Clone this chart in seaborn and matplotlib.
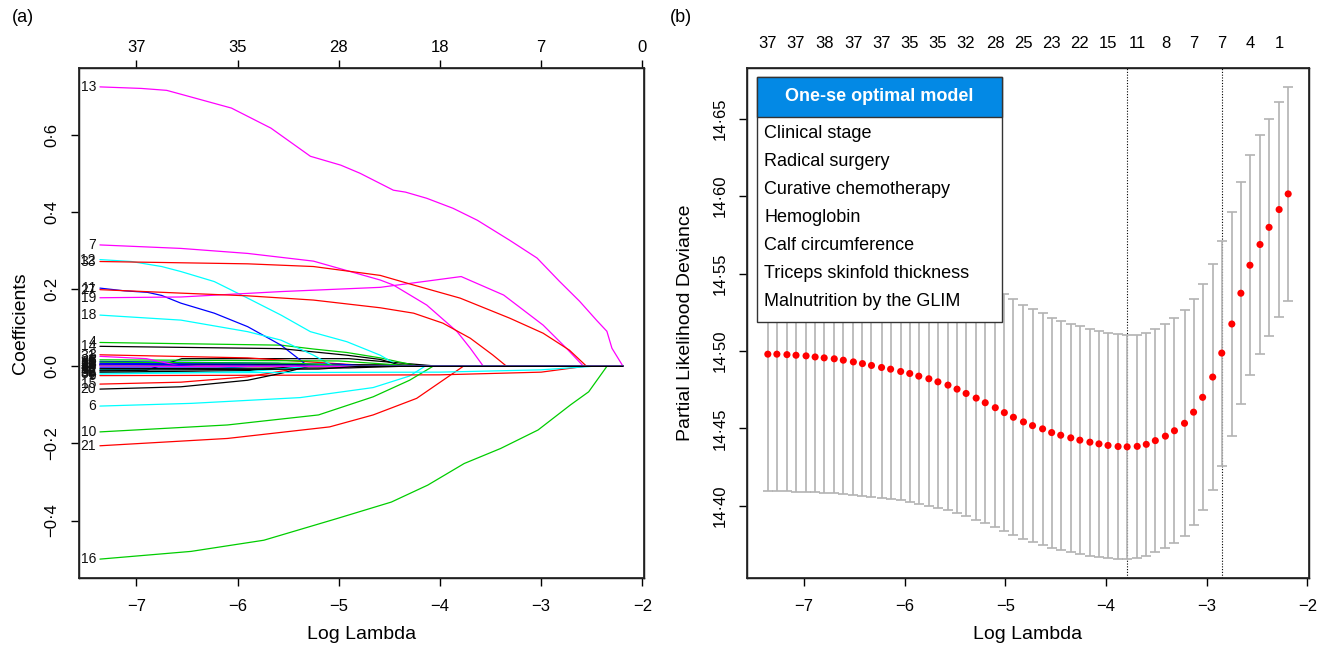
import matplotlib
matplotlib.use('Agg')
import matplotlib.pyplot as plt
from matplotlib.patches import Rectangle
import seaborn as sns
import pandas as pd

sns.set_theme(style='white')
plt.rcParams['font.family'] = ['Liberation Sans', 'DejaVu Sans']
plt.rcParams['text.color'] = 'black'
plt.rcParams['axes.labelcolor'] = 'black'
plt.rcParams['xtick.color'] = 'black'
plt.rcParams['ytick.color'] = 'black'

# --- data: cross-validation curve (panel b) ---
log_lambda = [-7.36, -7.27, -7.17, -7.08, -6.98, -6.89, -6.80, -6.70, -6.61, -6.51,
              -6.42, -6.33, -6.23, -6.14, -6.04, -5.95, -5.86, -5.76, -5.67, -5.57,
              -5.48, -5.39, -5.29, -5.20, -5.10, -5.01, -4.92, -4.82, -4.73, -4.63,
              -4.54, -4.45, -4.35, -4.26, -4.16, -4.07, -3.98, -3.88, -3.79, -3.69,
              -3.60, -3.51, -3.41, -3.32, -3.22, -3.13, -3.04, -2.94, -2.85, -2.75,
              -2.66, -2.57, -2.47, -2.38, -2.28, -2.19]
cvm = [14.4979, 14.4979, 14.4976, 14.4972, 14.4968, 14.4961, 14.4955, 14.4949, 14.4940, 14.4929,
       14.4918, 14.4906, 14.4893, 14.4882, 14.4867, 14.4854, 14.4837, 14.4820, 14.4800, 14.4779,
       14.4753, 14.4725, 14.4695, 14.4665, 14.4633, 14.4601, 14.4571, 14.4541, 14.4517, 14.4496,
       14.4472, 14.4455, 14.4438, 14.4423, 14.4410, 14.4399, 14.4389, 14.4382, 14.4380, 14.4383,
       14.4396, 14.4420, 14.4449, 14.4484, 14.4532, 14.4604, 14.4700, 14.4831, 14.4986, 14.5174,
       14.5373, 14.5554, 14.5688, 14.5799, 14.5914, 14.6015]
cvsd = [0.0884, 0.0883, 0.0882, 0.0881, 0.0879, 0.0876, 0.0872, 0.0868, 0.0864, 0.0859,
        0.0854, 0.0849, 0.0843, 0.0838, 0.0832, 0.0830, 0.0828, 0.0825, 0.0815, 0.0807,
        0.0800, 0.0792, 0.0785, 0.0779, 0.0774, 0.0768, 0.0762, 0.0757, 0.0752, 0.0748,
        0.0744, 0.0740, 0.0738, 0.0735, 0.0733, 0.0731, 0.0729, 0.0728, 0.0726, 0.0722,
        0.0719, 0.0721, 0.0725, 0.0729, 0.0730, 0.0731, 0.0731, 0.0730, 0.0727, 0.0723,
        0.0719, 0.0712, 0.0708, 0.0702, 0.0696, 0.0692]
nzero_b = [37, 37, 38, 37, 37, 35, 35, 32, 28, 25, 23, 22, 15, 11, 8, 7, 7, 4, 1]
model_vars = ['Clinical stage', 'Radical surgery', 'Curative chemotherapy', 'Hemoglobin',
              'Calf circumference', 'Triceps skinfold thickness', 'Malnutrition by the GLIM']

# --- data: lasso coefficient paths (panel a), variable -> (log lambda, coef) ---
coef_paths = {
    1: ([-7.36, -6.00, -5.50], [0.009, 0.006, 0.0]),
    2: ([-7.36, -6.90, -6.55, -4.90, -4.00], [-0.012, -0.010, 0.020, 0.020, 0.0]),
    3: ([-7.36, -5.90, -4.60], [0.030, 0.022, 0.0]),
    4: ([-7.36, -5.57, -5.25, -4.92, -4.59, -4.20], [0.062, 0.055, 0.045, 0.036, 0.022, 0.0]),
    5: ([-7.36, -5.60, -5.30], [0.013, 0.008, 0.0]),
    6: ([-7.36, -6.46, -5.38, -4.66, -4.30, -4.15], [-0.103, -0.096, -0.081, -0.055, -0.025, 0.0]),
    7: ([-7.36, -6.56, -5.90, -5.25, -4.59, -4.46, -4.13, -3.83, -3.70, -3.57],
        [0.315, 0.306, 0.293, 0.273, 0.224, 0.211, 0.159, 0.090, 0.047, 0.0]),
    8: ([-7.36, -4.40, -3.90], [0.005, 0.004, 0.0]),
    9: ([-7.36, -4.00, -3.00, -2.57], [-0.024, -0.022, -0.015, 0.0]),
    10: ([-7.36, -6.10, -5.20, -4.66, -4.30, -4.07], [-0.170, -0.152, -0.126, -0.079, -0.036, 0.0]),
    11: ([-7.36, -7.12, -6.89, -6.75, -6.56, -6.23, -5.90, -5.57, -5.30],
         [0.203, 0.196, 0.192, 0.184, 0.164, 0.138, 0.103, 0.055, 0.0]),
    12: ([-7.36, -7.05, -6.75, -6.56, -6.23, -5.90, -5.57, -5.28, -4.92, -4.59, -4.40],
         [0.277, 0.272, 0.259, 0.246, 0.220, 0.177, 0.133, 0.090, 0.064, 0.029, 0.0]),
    13: ([-7.36, -6.95, -6.70, -6.56, -6.06, -5.67, -5.28, -4.98, -4.79, -4.46, -4.34,
          -4.13, -3.87, -3.63, -3.31, -3.04, -2.82, -2.62, -2.45, -2.35, -2.30, -2.19],
         [0.725, 0.721, 0.716, 0.706, 0.670, 0.618, 0.545, 0.522, 0.501, 0.457, 0.452,
          0.436, 0.410, 0.379, 0.327, 0.281, 0.221, 0.169, 0.119, 0.091, 0.047, 0.0]),
    14: ([-7.36, -5.57, -4.92, -4.59, -4.35], [0.052, 0.046, 0.029, 0.018, 0.0]),
    15: ([-7.36, -6.56, -5.90, -5.51, -5.40], [-0.046, -0.041, -0.027, -0.010, 0.0]),
    16: ([-7.36, -6.46, -5.74, -5.02, -4.48, -4.12, -3.76, -3.40, -3.03, -2.71, -2.53, -2.35],
         [-0.500, -0.480, -0.451, -0.395, -0.352, -0.308, -0.252, -0.213, -0.165, -0.100, -0.066, 0.0]),
    17: ([-7.36, -5.00, -4.70], [0.008, 0.006, 0.0]),
    18: ([-7.36, -6.56, -5.90, -5.57, -5.25, -5.05], [0.133, 0.120, 0.090, 0.068, 0.029, 0.0]),
    19: ([-7.36, -6.56, -5.57, -4.59, -3.79, -3.37, -2.98, -2.75, -2.58],
         [0.178, 0.180, 0.194, 0.205, 0.233, 0.185, 0.107, 0.047, 0.0]),
    20: ([-7.36, -6.56, -5.90, -5.57, -5.30], [-0.059, -0.053, -0.036, -0.018, 0.0]),
    21: ([-7.36, -6.10, -5.09, -4.66, -4.23, -3.77], [-0.206, -0.187, -0.157, -0.126, -0.083, 0.0]),
    22: ([-7.36, -5.00, -4.20], [0.017, 0.014, 0.0]),
    23: ([-7.36, -5.90, -5.60], [0.004, 0.003, 0.0]),
    24: ([-7.36, -6.20, -5.90], [-0.008, -0.006, 0.0]),
    25: ([-7.36, -6.30, -6.00], [0.003, 0.002, 0.0]),
    26: ([-7.36, -4.90, -4.40], [-0.006, -0.004, 0.0]),
    27: ([-7.36, -6.56, -5.90, -5.25, -4.59, -4.26, -3.97, -3.70, -3.48, -3.34],
         [0.199, 0.190, 0.183, 0.172, 0.152, 0.138, 0.112, 0.073, 0.030, 0.0]),
    28: ([-7.36, -5.40, -4.80], [0.011, 0.008, 0.0]),
    29: ([-7.36, -6.10, -5.80], [-0.002, -0.001, 0.0]),
    30: ([-7.36, -4.00, -3.00, -2.50], [-0.017, -0.015, -0.009, 0.0]),
    31: ([-7.36, -6.90, -6.55], [0.026, 0.020, 0.0]),
    32: ([-7.36, -5.90, -5.40], [-0.015, -0.011, 0.0]),
    33: ([-7.36, -5.90, -5.25, -4.59, -4.26, -3.80, -3.31, -2.98, -2.72, -2.55],
         [0.272, 0.266, 0.259, 0.236, 0.211, 0.177, 0.125, 0.086, 0.042, 0.0]),
    34: ([-7.36, -6.50, -6.20], [0.002, 0.001, 0.0]),
    35: ([-7.36, -6.70, -6.40], [0.006, 0.004, 0.0]),
    36: ([-7.36, -5.90, -5.30], [-0.020, -0.014, 0.0]),
    37: ([-7.36, -7.00, -6.80], [0.001, 0.001, 0.0]),
    38: ([-7.36, -5.20, -4.80], [-0.010, -0.007, 0.0]),
}
top_ticks_a = [-7, -6, -5, -4, -3, -2]
nzero_a = [37, 35, 28, 18, 7, 0]

# R matplot colours: black, red, green3, blue, cyan, magenta
r_cols = ['black', '#FF0000', '#00CD00', '#0000FF', '#00FFFF', '#FF00FF']


def r_num(v, nd):
    s = f'{abs(v):.{nd}f}'.replace('.', '\u00b7')
    return ('\u2212' if v < -1e-12 else '') + s


def r_limits(lo, hi):
    pad = (hi - lo) * 0.04
    return lo - pad, hi + pad


def style_box(ax):
    for sp in ax.spines.values():
        sp.set_visible(True)
        sp.set_color('black')
        sp.set_linewidth(1.0)
    ax.tick_params(axis='both', direction='out', length=6, width=1, color='black',
                   labelcolor='black', labelsize=12, bottom=True, left=True,
                   top=False, right=False)
    ax.tick_params(axis='x', pad=9)
    ax.tick_params(axis='y', pad=8)
    ax.grid(False)


fig = plt.figure(figsize=(13.3, 6.5), dpi=100)
ax1 = fig.add_axes([79 / 1330, 72 / 650, 565 / 1330, 510 / 650])
ax2 = fig.add_axes([747 / 1330, 72 / 650, 562 / 1330, 510 / 650])

# --- (a) coefficient paths ---
rows = []
for vid, (xs, ys) in coef_paths.items():
    xs, ys = list(xs), list(ys)
    if xs[-1] < log_lambda[-1]:
        xs.append(log_lambda[-1])
        ys.append(0.0)
    for x, y in zip(xs, ys):
        rows.append({'var': vid, 'logl': x, 'coef': y})
df_paths = pd.DataFrame(rows)
ids = sorted(coef_paths)
pal = {vid: r_cols[(vid - 2) % 6] for vid in ids}
sns.lineplot(data=df_paths, x='logl', y='coef', hue='var', hue_order=ids, palette=pal,
             estimator=None, sort=False, legend=False, linewidth=0.9, ax=ax1)
for vid in ids:
    xs, ys = coef_paths[vid]
    ax1.text(xs[0] - 0.04, ys[0], str(vid), ha='right', va='center', fontsize=10,
             color='#111111')

all_coefs = [y for _, ys in coef_paths.values() for y in ys]
ax1.set_xlim(*r_limits(log_lambda[0], log_lambda[-1]))
ax1.set_ylim(*r_limits(min(all_coefs), max(all_coefs)))
style_box(ax1)
ax1.set_xticks(top_ticks_a)
ax1.set_xticklabels([r_num(t, 0) for t in top_ticks_a])
yt = [-0.4, -0.2, 0.0, 0.2, 0.4, 0.6]
ax1.set_yticks(yt)
ax1.set_yticklabels([r_num(t, 1) for t in yt], rotation=90, va='center')
ax1.set_xlabel('Log Lambda', fontsize=14, labelpad=9)
ax1.set_ylabel('Coefficients', fontsize=14, labelpad=11)

top1 = ax1.twiny()
top1.set_xlim(ax1.get_xlim())
top1.set_xticks(top_ticks_a)
top1.set_xticklabels([str(n) for n in nzero_a])
top1.tick_params(axis='x', direction='out', length=6, width=1, color='black',
                 labelcolor='black', labelsize=12, top=True, pad=3)
top1.grid(False)

# --- (b) cross-validation curve ---
ax2.errorbar(log_lambda, cvm, yerr=cvsd, fmt='none', ecolor='#B3B3B3',
             elinewidth=1.2, capsize=3.5, capthick=1.2, zorder=2)
sns.scatterplot(x=log_lambda, y=cvm, color='#FF0000', s=26, edgecolor='none',
                zorder=3, ax=ax2)
i_min = cvm.index(min(cvm))
thr = cvm[i_min] + cvsd[i_min]
i_1se = max(i for i, v in enumerate(cvm) if v <= thr)
for i in (i_min, i_1se):
    ax2.axvline(log_lambda[i], color='black', linestyle=(0, (1, 1.5)), linewidth=0.8,
                zorder=1)

lo = [m - s for m, s in zip(cvm, cvsd)]
hi = [m + s for m, s in zip(cvm, cvsd)]
ax2.set_xlim(*r_limits(log_lambda[0], log_lambda[-1]))
ax2.set_ylim(*r_limits(min(lo), max(hi)))
style_box(ax2)
ax2.set_xticks(top_ticks_a)
ax2.set_xticklabels([r_num(t, 0) for t in top_ticks_a])
yt2 = [14.40, 14.45, 14.50, 14.55, 14.60, 14.65]
ax2.set_yticks(yt2)
ax2.set_yticklabels([r_num(t, 2) for t in yt2], rotation=90, va='center')
ax2.set_xlabel('Log Lambda', fontsize=14, labelpad=9)
ax2.set_ylabel('Partial Likelihood Deviance', fontsize=14, labelpad=13)

top2 = ax2.twiny()
top2.set_xlim(ax2.get_xlim())
top2.set_xticks(log_lambda[::3])
top2.set_xticklabels([str(n) for n in nzero_b])
top2.tick_params(axis='x', length=0, labelcolor='black', labelsize=12, top=True, pad=12)
top2.grid(False)

# one-se model box
x0, x1 = 0.0178, 0.4537
y_top, y_head, y_bot = 0.9824, 0.904, 0.502
ax2.add_patch(Rectangle((x0, y_bot), x1 - x0, y_top - y_bot, transform=ax2.transAxes,
                        facecolor='white', edgecolor='#333333', linewidth=1.0, zorder=5))
ax2.add_patch(Rectangle((x0, y_head), x1 - x0, y_top - y_head, transform=ax2.transAxes,
                        facecolor='#0389E5', edgecolor='#333333', linewidth=1.0, zorder=6))
ax2.text((x0 + x1) / 2, (y_top + y_head) / 2, 'One-se optimal model', transform=ax2.transAxes,
         ha='center', va='center', color='white', fontsize=13, fontweight='bold', zorder=7)
for k, name in enumerate(model_vars):
    ax2.text(x0 + 0.0125, 0.8725 - k * 0.0552, name, transform=ax2.transAxes,
             ha='left', va='center', fontsize=13, color='black', zorder=7)

fig.text(12 / 1330, 1 - 18 / 650, '(a)', fontsize=13, va='center', ha='left')
fig.text(670 / 1330, 1 - 18 / 650, '(b)', fontsize=13, va='center', ha='left')

plt.savefig('out.png', dpi=100)
plt.close()
